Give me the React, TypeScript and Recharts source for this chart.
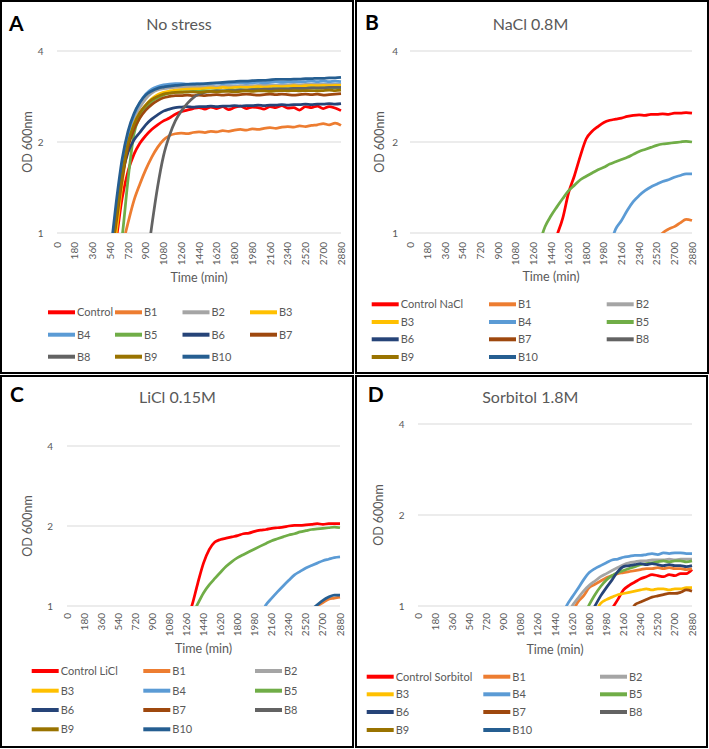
import { LineChart, Line, XAxis, YAxis, CartesianGrid } from 'recharts'

const FONT = 'Lato, "Open Sans", sans-serif'
const TEXT = '#595959'
const _ = null

// sampling times (min) and axis ticks
const times = [
  0, 60, 120, 180, 240, 300, 360, 420, 480, 540, 600, 660, 720, 780, 840, 900, 960, 1020, 1080, 1140,
  1200, 1260, 1320, 1380, 1440, 1500, 1560, 1620, 1680, 1740, 1800, 1860, 1920, 1980, 2040, 2100, 2160,
  2220, 2280, 2340, 2400, 2460, 2520, 2580, 2640, 2700, 2760, 2820, 2880,
]
const xTicks = [0, 180, 360, 540, 720, 900, 1080, 1260, 1440, 1620, 1800, 1980, 2160, 2340, 2520, 2700, 2880]
const yTicks = [1, 2, 4]

const strainNames = ['B1', 'B2', 'B3', 'B4', 'B5', 'B6', 'B7', 'B8', 'B9', 'B10']
const seriesColors = ['#FF0000', '#ED7D31', '#A5A5A5', '#FFC000', '#5B9BD5', '#70AD47', '#264478', '#9E480E', '#636363', '#997300', '#255E91']

// values start at the given time, nothing before it
const from = (start: number, vals: number[]) =>
  times.map((t) => {
    const i = (t - start) / 60
    return i >= 0 && i < vals.length ? vals[i] : _
  })

// A - no stress
const aCtrl = from(540, [0.75, 0.95, 1.3, 1.6, 1.82, 1.98, 2.1, 2.2, 2.28, 2.35, 2.4, 2.47, 2.52, 2.55, 2.58, 2.6, 2.57, 2.61, 2.58, 2.62, 2.56, 2.6, 2.63, 2.58, 2.61, 2.6, 2.57, 2.62, 2.6, 2.64, 2.59, 2.6, 2.55, 2.62, 2.6, 2.63, 2.58, 2.62, 2.59, 2.54])
const aB1 = from(660, [0.9, 1.08, 1.28, 1.45, 1.62, 1.78, 1.92, 2.03, 2.1, 2.13, 2.14, 2.13, 2.15, 2.16, 2.15, 2.17, 2.16, 2.18, 2.17, 2.19, 2.2, 2.19, 2.21, 2.2, 2.22, 2.23, 2.22, 2.24, 2.25, 2.24, 2.26, 2.25, 2.27, 2.28, 2.3, 2.28, 2.31, 2.27])
const aB2 = from(540, [0.78, 1.1, 1.58, 2.05, 2.38, 2.6, 2.78, 2.9, 2.97, 3.0, 3.02, 3.03, 3.03, 3.04, 3.04, 3.05, 3.05, 3.06, 3.05, 3.06, 3.07, 3.06, 3.07, 3.08, 3.07, 3.08, 3.08, 3.09, 3.08, 3.09, 3.09, 3.1, 3.09, 3.1, 3.1, 3.11, 3.1, 3.11, 3.11, 3.1])
const aB3 = from(540, [0.75, 1.0, 1.45, 1.98, 2.3, 2.5, 2.65, 2.78, 2.87, 2.92, 2.95, 2.97, 2.98, 2.99, 3.0, 3.0, 3.01, 3.02, 3.01, 3.03, 3.02, 3.03, 3.04, 3.03, 3.04, 3.05, 3.04, 3.05, 3.06, 3.05, 3.06, 3.07, 3.06, 3.07, 3.08, 3.07, 3.08, 3.07, 3.08, 3.08])
const aB4 = from(540, [0.8, 1.2, 1.68, 2.12, 2.45, 2.7, 2.88, 2.99, 3.05, 3.09, 3.11, 3.12, 3.12, 3.11, 3.12, 3.12, 3.11, 3.12, 3.13, 3.12, 3.13, 3.13, 3.14, 3.13, 3.14, 3.15, 3.14, 3.15, 3.16, 3.15, 3.16, 3.17, 3.16, 3.17, 3.18, 3.17, 3.18, 3.17, 3.18, 3.17])
const aB5 = from(600, [0.75, 0.97, 1.5, 2.12, 2.42, 2.6, 2.72, 2.8, 2.86, 2.9, 2.92, 2.93, 2.93, 2.94, 2.94, 2.95, 2.95, 2.96, 2.95, 2.97, 2.97, 2.98, 2.97, 2.98, 2.99, 2.98, 2.99, 3.0, 2.99, 3.0, 3.01, 3.0, 3.01, 3.02, 3.01, 3.02, 3.01, 3.02, 3.02])
const aB6 = from(540, [0.82, 1.15, 1.55, 1.85, 2.03, 2.15, 2.28, 2.38, 2.46, 2.53, 2.57, 2.6, 2.61, 2.62, 2.61, 2.62, 2.62, 2.63, 2.62, 2.63, 2.63, 2.64, 2.63, 2.64, 2.64, 2.65, 2.64, 2.65, 2.65, 2.66, 2.65, 2.66, 2.66, 2.67, 2.66, 2.67, 2.67, 2.68, 2.67, 2.68])
const aB7 = from(540, [0.8, 1.08, 1.5, 1.92, 2.2, 2.4, 2.55, 2.66, 2.74, 2.8, 2.83, 2.85, 2.85, 2.86, 2.85, 2.86, 2.85, 2.86, 2.87, 2.86, 2.87, 2.86, 2.87, 2.88, 2.87, 2.86, 2.87, 2.88, 2.87, 2.88, 2.87, 2.86, 2.87, 2.88, 2.87, 2.88, 2.86, 2.87, 2.88, 2.89])
const aB8 = from(900, [0.75, 1.05, 1.42, 1.8, 2.1, 2.35, 2.53, 2.68, 2.8, 2.88, 2.92, 2.94, 2.95, 2.95, 2.96, 2.96, 2.97, 2.97, 2.98, 2.98, 2.99, 2.99, 3.0, 3.0, 3.0, 3.01, 3.01, 3.01, 3.02, 3.02, 3.02, 3.03, 3.03, 3.03])
const aB9 = from(540, [0.8, 1.12, 1.55, 1.98, 2.28, 2.5, 2.65, 2.76, 2.83, 2.88, 2.9, 2.92, 2.92, 2.93, 2.93, 2.92, 2.93, 2.94, 2.93, 2.94, 2.94, 2.93, 2.94, 2.95, 2.94, 2.95, 2.95, 2.94, 2.95, 2.96, 2.95, 2.96, 2.95, 2.96, 2.96, 2.95, 2.96, 2.97, 2.96, 2.97])
const aB10 = from(540, [0.85, 1.26, 1.75, 2.17, 2.48, 2.7, 2.86, 2.95, 3.01, 3.04, 3.06, 3.08, 3.09, 3.1, 3.1, 3.11, 3.12, 3.13, 3.14, 3.15, 3.16, 3.17, 3.18, 3.18, 3.19, 3.2, 3.2, 3.21, 3.22, 3.22, 3.22, 3.23, 3.23, 3.24, 3.24, 3.25, 3.25, 3.26, 3.26, 3.27])

// B - NaCl 0.8M (other strains stay below OD 1)
const bCtrl = from(1440, [0.85, 0.98, 1.12, 1.36, 1.55, 1.8, 2.05, 2.17, 2.25, 2.32, 2.36, 2.38, 2.4, 2.43, 2.45, 2.46, 2.45, 2.47, 2.47, 2.48, 2.47, 2.49, 2.49, 2.5, 2.49])
const bB1 = from(2520, [0.95, 1.0, 1.03, 1.05, 1.08, 1.11, 1.1])
const bB4 = from(2040, [0.9, 1.03, 1.1, 1.19, 1.27, 1.33, 1.38, 1.42, 1.45, 1.48, 1.5, 1.53, 1.55, 1.57, 1.57])
const bB5 = from(1320, [0.92, 1.05, 1.14, 1.22, 1.3, 1.38, 1.44, 1.5, 1.54, 1.58, 1.62, 1.65, 1.69, 1.72, 1.75, 1.78, 1.82, 1.86, 1.89, 1.92, 1.95, 1.97, 1.98, 1.99, 2.0, 2.01, 2.0])

// C - LiCl 0.15M
const cCtrl = from(1260, [0.88, 1.01, 1.22, 1.45, 1.63, 1.74, 1.78, 1.8, 1.82, 1.84, 1.87, 1.88, 1.91, 1.93, 1.94, 1.96, 1.97, 1.98, 2.0, 2.01, 2.01, 2.02, 2.03, 2.04, 2.03, 2.04, 2.04, 2.04])
const cB1 = from(2580, [0.96, 1.0, 1.03, 1.06, 1.07, 1.08])
const cB4 = from(2040, [0.92, 1.01, 1.07, 1.13, 1.19, 1.25, 1.31, 1.35, 1.39, 1.42, 1.45, 1.48, 1.5, 1.52, 1.53])
const cB5 = from(1320, [0.92, 1.02, 1.12, 1.2, 1.27, 1.34, 1.41, 1.47, 1.52, 1.56, 1.6, 1.64, 1.68, 1.72, 1.76, 1.79, 1.82, 1.85, 1.87, 1.9, 1.92, 1.94, 1.95, 1.96, 1.97, 1.98, 1.97])
const cB10 = from(2580, [0.97, 1.01, 1.05, 1.08, 1.1, 1.1])

// D - Sorbitol 1.8M
const dCtrl = from(1980, [0.9, 0.98, 1.05, 1.13, 1.17, 1.2, 1.23, 1.25, 1.27, 1.26, 1.25, 1.27, 1.26, 1.28, 1.28, 1.32])
const dB1 = from(1620, [0.95, 1.03, 1.08, 1.15, 1.18, 1.21, 1.24, 1.26, 1.28, 1.29, 1.3, 1.31, 1.32, 1.33, 1.33, 1.34, 1.33, 1.34, 1.33, 1.33, 1.32, 1.33])
const dB2 = from(1560, [0.92, 1.0, 1.06, 1.12, 1.17, 1.21, 1.25, 1.28, 1.31, 1.34, 1.37, 1.39, 1.4, 1.41, 1.41, 1.42, 1.42, 1.42, 1.43, 1.42, 1.43, 1.43, 1.43])
const dB3 = from(1860, [0.95, 1.02, 1.05, 1.07, 1.09, 1.1, 1.11, 1.12, 1.13, 1.14, 1.13, 1.14, 1.14, 1.13, 1.14, 1.14, 1.15, 1.15])
const dB4 = from(1500, [0.9, 1.0, 1.07, 1.14, 1.22, 1.29, 1.33, 1.36, 1.39, 1.42, 1.43, 1.45, 1.46, 1.47, 1.47, 1.48, 1.49, 1.48, 1.5, 1.49, 1.5, 1.5, 1.49, 1.49])
const dB5 = from(1740, [0.92, 1.01, 1.09, 1.16, 1.22, 1.26, 1.29, 1.31, 1.33, 1.35, 1.37, 1.38, 1.39, 1.4, 1.41, 1.4, 1.41, 1.41, 1.4, 1.41])
const dB6 = from(1800, [0.92, 1.0, 1.08, 1.15, 1.22, 1.3, 1.35, 1.36, 1.37, 1.38, 1.37, 1.38, 1.37, 1.36, 1.37, 1.36, 1.36, 1.35, 1.36])
const dB7 = from(2220, [0.92, 1.01, 1.03, 1.05, 1.07, 1.08, 1.09, 1.1, 1.1, 1.11, 1.13, 1.12])

const none: (number | null)[] = []

interface PanelCfg {
  letter: string
  title: string
  control: string
  x: number
  y: number
  w: number
  h: number
  plot: { l: number; r: number; t: number; b: number }
  yTickRight: number
  xTickGap: number
  letterPos: [number, number]
  titlePos: [number, number]
  yTitleX: number
  xTitleY: number
  legendCols: number[]
  legendRows: number[]
  values: (number | null)[][]
}

const panels: PanelCfg[] = [
  {
    letter: 'A', title: 'No stress', control: 'Control',
    x: 0, y: 0, w: 354, h: 374,
    plot: { l: 57, r: 341, t: 51, b: 233 },
    yTickRight: 43.5, xTickGap: 9,
    letterPos: [9, 30.5], titlePos: [179, 29.5], yTitleX: 28, xTitleY: 282,
    legendCols: [48, 115, 182.5, 250], legendRows: [312.3, 334.7, 356.7],
    values: [aCtrl, aB1, aB2, aB3, aB4, aB5, aB6, aB7, aB8, aB9, aB10],
  },
  {
    letter: 'B', title: 'NaCl 0.8M', control: 'Control NaCl',
    x: 355, y: 0, w: 354, h: 374,
    plot: { l: 55, r: 337, t: 51, b: 233 },
    yTickRight: 43, xTickGap: 9,
    letterPos: [10, 30], titlePos: [175.5, 29.5], yTitleX: 25, xTitleY: 281,
    legendCols: [16.7, 134, 251.7], legendRows: [304.3, 322, 339.3, 357],
    values: [bCtrl, bB1, none, none, bB4, bB5, none, none, none, none, none],
  },
  {
    letter: 'C', title: 'LiCl 0.15M', control: 'Control LiCl',
    x: 0, y: 375, w: 354, h: 373,
    plot: { l: 67, r: 340, t: 71, b: 231 },
    yTickRight: 53, xTickGap: 7,
    letterPos: [10, 27.3], titlePos: [177.5, 28.3], yTitleX: 28, xTitleY: 278.3,
    legendCols: [31.7, 143.3, 255], legendRows: [296, 315.7, 335, 354.3],
    values: [cCtrl, cB1, none, none, cB4, cB5, none, none, none, none, cB10],
  },
  {
    letter: 'D', title: 'Sorbitol 1.8M', control: 'Control Sorbitol',
    x: 355, y: 375, w: 353, h: 373,
    plot: { l: 63, r: 337, t: 49, b: 231 },
    yTickRight: 49.5, xTickGap: 7,
    letterPos: [12.7, 27.3], titlePos: [175.3, 28.3], yTitleX: 23.3, xTitleY: 279,
    legendCols: [11.7, 128.3, 245], legendRows: [301.7, 319.3, 337, 355],
    values: [dCtrl, dB1, dB2, dB3, dB4, dB5, dB6, dB7, none, none, none],
  },
]

const Y_AXIS_W = 30
const X_AXIS_H = 30

function GrowthPanel({ p }: { p: PanelCfg }) {
  const names = [p.control, ...strainNames]
  const rows = times.map((t, i) => {
    const row: Record<string, number | null> = { t }
    p.values.forEach((vals, k) => {
      row['s' + k] = vals.length ? vals[i] : null
    })
    return row
  })

  const yGap = p.plot.l - p.yTickRight
  const renderYTick = (props: any) => (
    <text x={props.x - yGap} y={props.y} dy="0.35em" textAnchor="end" fontSize={10} fill={TEXT} fontFamily={FONT}>
      {props.payload.value}
    </text>
  )
  const renderXTick = (props: any) => {
    const ty = props.y + p.xTickGap
    return (
      <text
        x={props.x}
        y={ty}
        dy="0.35em"
        textAnchor="end"
        transform={`rotate(-90 ${props.x} ${ty})`}
        fontSize={10}
        fill={TEXT}
        fontFamily={FONT}
      >
        {props.payload.value}
      </text>
    )
  }

  const plotMidY = (p.plot.t + p.plot.b) / 2
  const plotMidX = (p.plot.l + p.plot.r) / 2
  const nCols = p.legendCols.length

  return (
    <div style={{ position: 'absolute', left: p.x, top: p.y, width: p.w, height: p.h }}>
      <div style={{ position: 'absolute', inset: 0, border: '2px solid #000', boxSizing: 'border-box' }} />
      <div style={{ position: 'absolute', left: 0, top: 0 }}>
        <LineChart
          width={p.w}
          height={p.h}
          data={rows}
          margin={{
            top: p.plot.t,
            left: p.plot.l - Y_AXIS_W,
            right: p.w - p.plot.r,
            bottom: p.h - p.plot.b - X_AXIS_H,
          }}
        >
          <CartesianGrid vertical={false} stroke="#D9D9D9" />
          <XAxis
            type="number"
            dataKey="t"
            domain={[0, 2880]}
            ticks={xTicks}
            interval={0}
            height={X_AXIS_H}
            axisLine={false}
            tickLine={false}
            tickSize={0}
            tickMargin={0}
            tick={renderXTick}
          />
          <YAxis
            scale="log"
            type="number"
            domain={[1, 4]}
            ticks={yTicks}
            allowDataOverflow
            width={Y_AXIS_W}
            axisLine={false}
            tickLine={false}
            tickSize={0}
            tickMargin={0}
            tick={renderYTick}
          />
          {p.values.map((vals, k) =>
            vals.length ? (
              <Line
                key={k}
                type="monotone"
                dataKey={'s' + k}
                name={names[k]}
                stroke={seriesColors[k]}
                strokeWidth={2.75}
                dot={false}
                isAnimationActive={false}
              />
            ) : null
          )}
        </LineChart>
      </div>
      <svg
        width={p.w}
        height={p.h}
        style={{ position: 'absolute', left: 0, top: 0, pointerEvents: 'none' }}
        fontFamily={FONT}
      >
        <text x={p.letterPos[0]} y={p.letterPos[1]} fontSize={21} fontWeight={700} fill="#000">
          {p.letter}
        </text>
        <text x={p.titlePos[0]} y={p.titlePos[1]} fontSize={16} textAnchor="middle" fill={TEXT}>
          {p.title}
        </text>
        <text
          x={p.yTitleX}
          y={plotMidY}
          dy="0.35em"
          fontSize={12.5}
          textAnchor="middle"
          fill={TEXT}
          transform={`rotate(-90 ${p.yTitleX} ${plotMidY})`}
        >
          OD 600nm
        </text>
        <text x={plotMidX} y={p.xTitleY} fontSize={12.5} textAnchor="middle" fill={TEXT}>
          Time (min)
        </text>
        {names.map((name, k) => {
          const lx = p.legendCols[k % nCols]
          const ly = p.legendRows[Math.floor(k / nCols)]
          return (
            <g key={name}>
              <line x1={lx} x2={lx + 27} y1={ly} y2={ly} stroke={seriesColors[k]} strokeWidth={4} />
              <text x={lx + 29} y={ly} dy="0.35em" fontSize={11} fill={TEXT}>
                {name}
              </text>
            </g>
          )
        })}
      </svg>
    </div>
  )
}

export default function App() {
  return (
    <div style={{ position: 'absolute', left: 0, top: 0, width: 709, height: 749, background: '#fff' }}>
      {panels.map((p) => (
        <GrowthPanel key={p.letter} p={p} />
      ))}
    </div>
  )
}
